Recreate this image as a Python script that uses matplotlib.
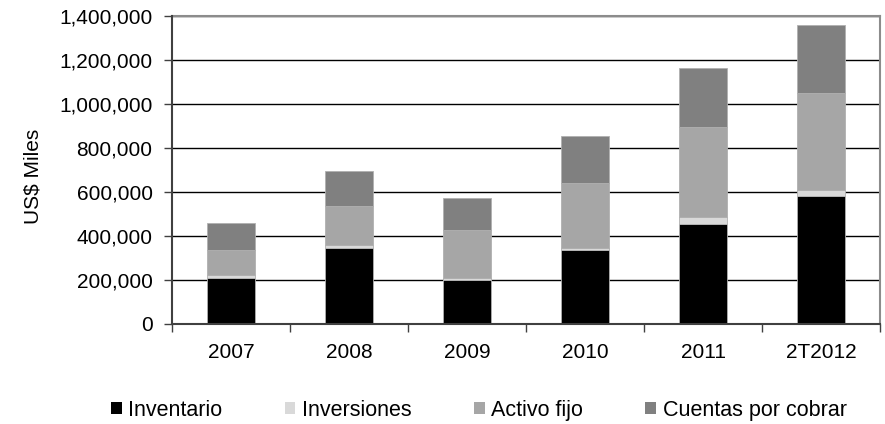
import matplotlib
matplotlib.use("Agg")
import matplotlib.pyplot as plt
from matplotlib.patches import Patch
from matplotlib.ticker import FuncFormatter, FixedLocator
import numpy as np

years = ["2007", "2008", "2009", "2010", "2011", "2T2012"]
inventario = [207000, 343000, 199000, 333000, 455000, 581000]
inversiones = [12000, 13000, 9000, 12000, 28000, 27000]
activo_fijo = [118000, 179000, 216000, 293000, 411000, 441000]
cuentas_cobrar = [119000, 158000, 149000, 216000, 268000, 311000]

series_names = ["Inventario", "Inversiones", "Activo fijo", "Cuentas por cobrar"]
colors = ["#000000", "#d9d9d9", "#a6a6a6", "#808080"]

plt.rcParams['font.family'] = ['Liberation Sans', 'DejaVu Sans']

fig = plt.figure(figsize=(8.85, 4.24), dpi=100)
ax = fig.add_axes([0.1944, 0.237, 0.8, 0.725])

x = np.arange(len(years))
bottom = np.zeros(len(years))
for vals, name, c in zip([inventario, inversiones, activo_fijo, cuentas_cobrar], series_names, colors):
    ax.bar(x, vals, width=0.4, bottom=bottom, color=c, edgecolor="#b0b0b0",
           linewidth=0.6, label=name, zorder=3)
    bottom += np.array(vals)

ax.set_ylim(0, 1400000)
ax.set_xlim(-0.5, len(years) - 0.5)
ax.set_yticks(np.arange(0, 1400001, 200000))
ax.yaxis.set_major_formatter(FuncFormatter(lambda v, p: f"{int(v):,}"))
ax.grid(axis="y", color="black", linewidth=1, zorder=0)

# category boundaries as ticks, labels centred
ax.xaxis.set_major_locator(FixedLocator(np.arange(-0.5, len(years), 1)))
ax.xaxis.set_minor_locator(FixedLocator(x))
ax.set_xticklabels([])
ax.set_xticklabels(years, minor=True, fontsize=15)
ax.tick_params(axis="x", which="major", length=6, width=1, color="#404040", direction="out")
ax.tick_params(axis="x", which="minor", length=0, pad=14)
ax.tick_params(axis="y", length=6, width=1, color="#404040", labelsize=15, pad=8)

ax.set_ylabel("US$ Miles", fontsize=15)
ax.yaxis.set_label_coords(-0.183, 0.48)

for s in ["top", "right"]:
    ax.spines[s].set_color("#8c8c8c")
    ax.spines[s].set_linewidth(1.5)
for s in ["left", "bottom"]:
    ax.spines[s].set_color("#404040")
    ax.spines[s].set_linewidth(1.5)
    ax.spines[s].set_zorder(4)

handles = [Patch(facecolor=c, edgecolor="none") for c in colors]
fig.legend(handles, series_names, loc="center", bbox_to_anchor=(0.541, 0.033), ncol=4,
           frameon=False, handlelength=0.5, handleheight=0.5, handletextpad=0.3,
           columnspacing=2.9, fontsize=15.5)

fig.savefig("out.png", dpi=100)
